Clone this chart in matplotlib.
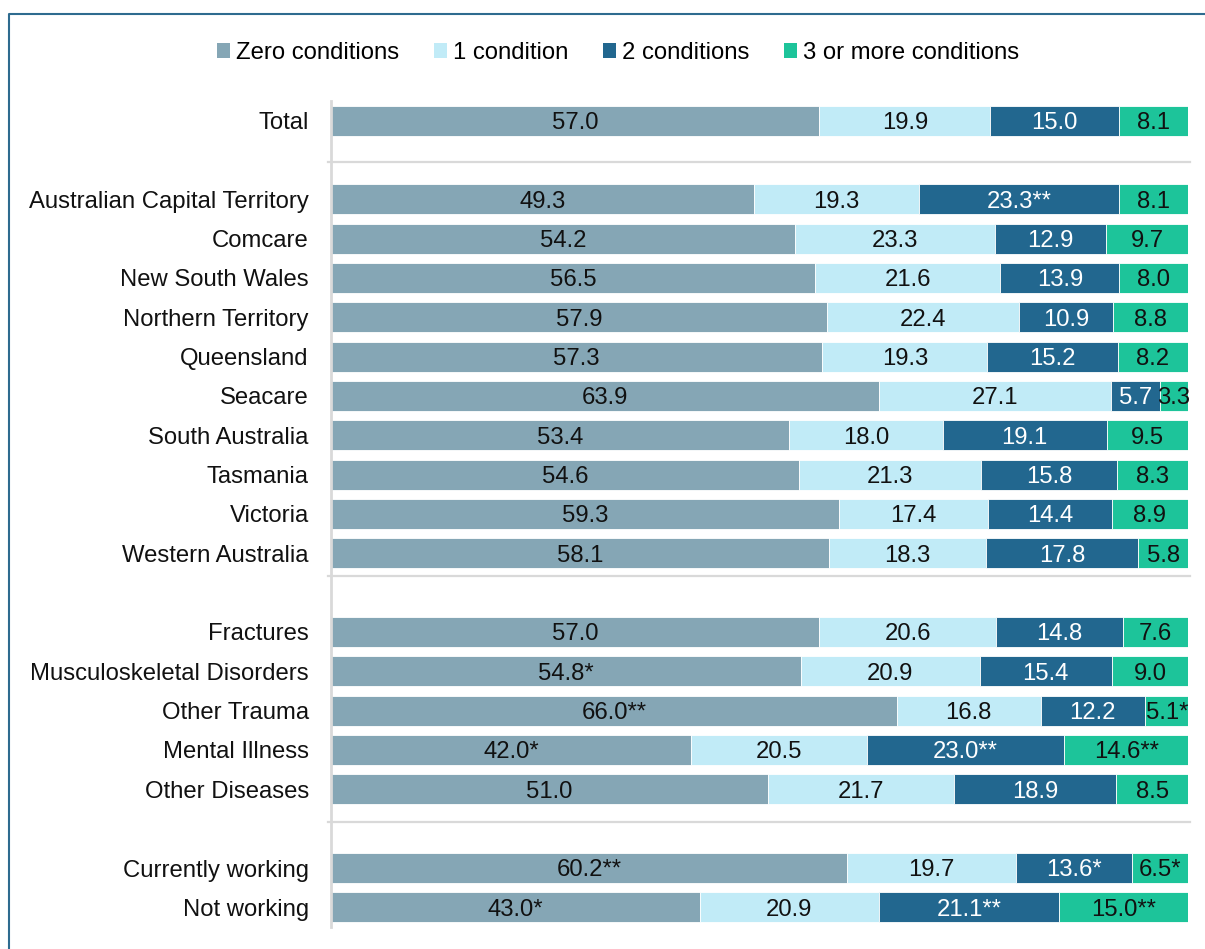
import matplotlib
matplotlib.use("Agg")
import matplotlib.pyplot as plt
from matplotlib.lines import Line2D
from matplotlib.patches import Patch
import numpy as np

plt.rcParams['font.family'] = ['Liberation Sans', 'DejaVu Sans']

categories = ["Total", "",
              "Australian Capital Territory", "Comcare", "New South Wales",
              "Northern Territory", "Queensland", "Seacare", "South Australia",
              "Tasmania", "Victoria", "Western Australia", "",
              "Fractures", "Musculoskeletal Disorders", "Other Trauma",
              "Mental Illness", "Other Diseases", "",
              "Currently working", "Not working"]

series_names = ["Zero conditions", "1 condition", "2 conditions", "3 or more conditions"]

zero = [57.0, None, 49.3, 54.2, 56.5, 57.9, 57.3, 63.9, 53.4, 54.6, 59.3, 58.1, None,
        57.0, 54.8, 66.0, 42.0, 51.0, None, 60.2, 43.0]
one = [19.9, None, 19.3, 23.3, 21.6, 22.4, 19.3, 27.1, 18.0, 21.3, 17.4, 18.3, None,
       20.6, 20.9, 16.8, 20.5, 21.7, None, 19.7, 20.9]
two = [15.0, None, 23.3, 12.9, 13.9, 10.9, 15.2, 5.7, 19.1, 15.8, 14.4, 17.8, None,
       14.8, 15.4, 12.2, 23.0, 18.9, None, 13.6, 21.1]
three = [8.1, None, 8.1, 9.7, 8.0, 8.8, 8.2, 3.3, 9.5, 8.3, 8.9, 5.8, None,
         7.6, 9.0, 5.1, 14.6, 8.5, None, 6.5, 15.0]

zero_sig = ["", "", "", "", "", "", "", "", "", "", "", "", "",
            "", "*", "**", "*", "", "", "**", "*"]
one_sig = [""] * 21
two_sig = ["", "", "**", "", "", "", "", "", "", "", "", "", "",
           "", "", "", "**", "", "", "*", "**"]
three_sig = ["", "", "", "", "", "", "", "", "", "", "", "", "",
             "", "", "*", "**", "", "", "*", "**"]

separators = [1.04, 11.57, 17.82]

colors = ["#85A6B5", "#C1EBF7", "#22678F", "#1DC49A"]
text_colors = ["#111111", "#111111", "white", "#111111"]

FS = 17.2

W, H = 1205, 949
fig = plt.figure(figsize=(W / 100, H / 100), dpi=100)
ax = fig.add_axes([331 / W, 1 - 927 / H, (1188 - 331) / W, (927 - 101) / H])

y = np.arange(len(categories))
left = np.zeros(len(categories))
all_series = [zero, one, two, three]
all_sig = [zero_sig, one_sig, two_sig, three_sig]
for vals, sig, c, tc, name in zip(all_series, all_sig, colors, text_colors, series_names):
    v = np.array([np.nan if x is None else x for x in vals], dtype=float)
    ax.barh(y, np.nan_to_num(v), left=left, height=0.755, color=c, label=name,
            edgecolor="white", linewidth=0.6)
    for i in range(len(y)):
        if not np.isnan(v[i]):
            ax.text(left[i] + v[i] / 2, y[i], f"{v[i]:.1f}{sig[i]}", ha="center",
                    va="center_baseline", color=tc, fontsize=FS)
    left = left + np.nan_to_num(v)

ax.set_xlim(0, 100)
ax.set_ylim(len(categories) - 0.5, -0.5)
ax.set_yticks(y)
ax.set_yticklabels(categories, fontsize=FS, color="#111111")
for lbl in ax.get_yticklabels():
    lbl.set_verticalalignment("center_baseline")
ax.tick_params(axis="y", length=0, pad=16)
ax.set_xticks([])
for s in ["top", "right", "bottom"]:
    ax.spines[s].set_visible(False)
ax.spines["left"].set_color("#D9D9D9")
ax.spines["left"].set_linewidth(2)

for s in separators:
    ax.plot([-0.4, 100.2], [s, s], color="#D9D9D9", linewidth=1.6, clip_on=False, zorder=0)

handles = [Patch(facecolor=c, edgecolor="none") for c in colors]
fig.legend(handles, series_names, loc="center", bbox_to_anchor=(618 / W, 1 - 53 / H),
           ncol=4, frameon=False, fontsize=FS, handlelength=0.55, handleheight=0.55,
           handletextpad=0.25, columnspacing=1.45)

frame_color = "#2E6B8F"
fig.add_artist(Line2D([8.5 / W, 8.5 / W, 1.0], [0.0, 1 - 14 / H, 1 - 14 / H],
                      transform=fig.transFigure, color=frame_color, linewidth=1.5))

fig.savefig("out.png", dpi=100, facecolor="white")
